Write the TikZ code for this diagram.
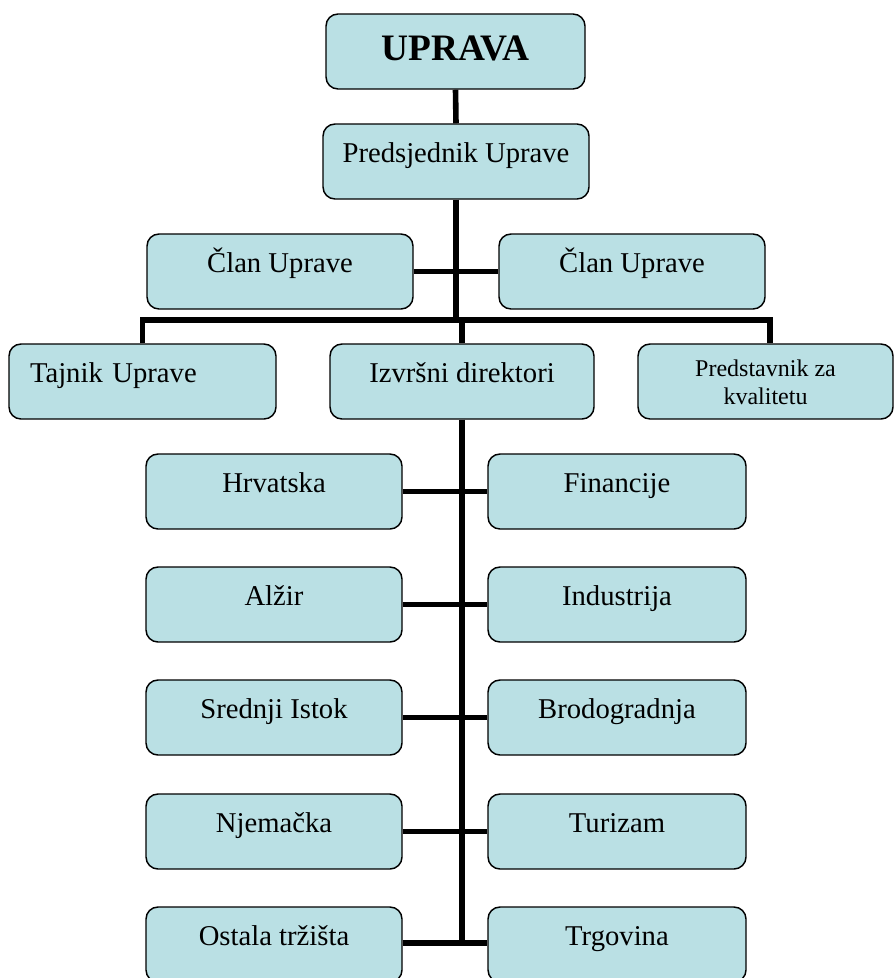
\documentclass[tikz,border=0pt]{standalone}
\usepackage{fontspec}
\setmainfont{Liberation Serif}
\definecolor{boxfill}{RGB}{186,224,228}
\begin{document}
\begin{tikzpicture}[x=0.75pt,y=-0.75pt,
  box/.style={draw=black, line width=1.1pt, fill=boxfill, rounded corners=9pt,
    inner sep=0pt, minimum height=56.25pt, text height=15pt, text depth=12.8pt,
    font=\fontsize{21.5pt}{25pt}\selectfont},
  link/.style={line width=4.2pt}]
\useasboundingbox (0,0) rectangle (894,978);
% top
\node[box, minimum width=194.25pt, text height=20pt, text depth=5.8pt,
  font=\bfseries\fontsize{28pt}{32pt}\selectfont] (upr) at (455.5,51.5) {UPRAVA};
\node[box, minimum width=199.5pt] (pred) at (456,161.5) {Predsjednik Uprave};
\node[box, minimum width=199.5pt] (clanL) at (280,271.5) {Član Uprave};
\node[box, minimum width=199.5pt] (clanR) at (632,271.5) {Član Uprave};
\node[box, minimum width=200.25pt, text width=168.75pt, align=left] (taj) at (142.5,381.5) {Tajnik Uprave};
\node[box, minimum width=198pt] (izv) at (462,381.5) {Izvršni direktori};
\node[box, minimum width=191.25pt, align=center, text height=38pt, text depth=4.2pt,
  font=\fontsize{18pt}{20.5pt}\selectfont] (pks) at (765.5,381.5) {Predstavnik za\\kvalitetu};
% columns
\node[box, minimum width=192pt] (hr) at (274,491.5) {Hrvatska};
\node[box, minimum width=193.5pt] (fin) at (617,491.5) {Financije};
\node[box, minimum width=192pt] (alz) at (274,604.5) {Alžir};
\node[box, minimum width=193.5pt] (ind) at (617,604.5) {Industrija};
\node[box, minimum width=192pt] (si) at (274,717.5) {Srednji Istok};
\node[box, minimum width=193.5pt] (bro) at (617,717.5) {Brodogradnja};
\node[box, minimum width=192pt] (nje) at (274,831.5) {Njemačka};
\node[box, minimum width=193.5pt] (tur) at (617,831.5) {Turizam};
\node[box, minimum width=192pt] (ost) at (274,944.5) {Ostala tržišta};
\node[box, minimum width=193.5pt] (trg) at (617,944.5) {Trgovina};
% connectors
\coordinate (bar) at (456,320);
\coordinate (spineEnd) at (462,943);
\draw[link] (upr.south) -- (pred.north);
\draw[link] (pred.south) -- (bar);
\draw[link] (clanL.east) -- (clanR.west);
\draw[link] (taj.north) |- (bar) -| ([xshift=3.4pt]pks.north);
\draw[link] (bar -| izv.north) -- (izv.north);
\draw[link] (izv.south) -- (spineEnd);
\draw[link] (hr.east) -- (fin.west);
\draw[link] (alz.east) -- (ind.west);
\draw[link] (si.east) -- (bro.west);
\draw[link] (nje.east) -- (tur.west);
\draw[link] (ost.east |- spineEnd) -- (trg.west |- spineEnd);
\end{tikzpicture}
\end{document}
